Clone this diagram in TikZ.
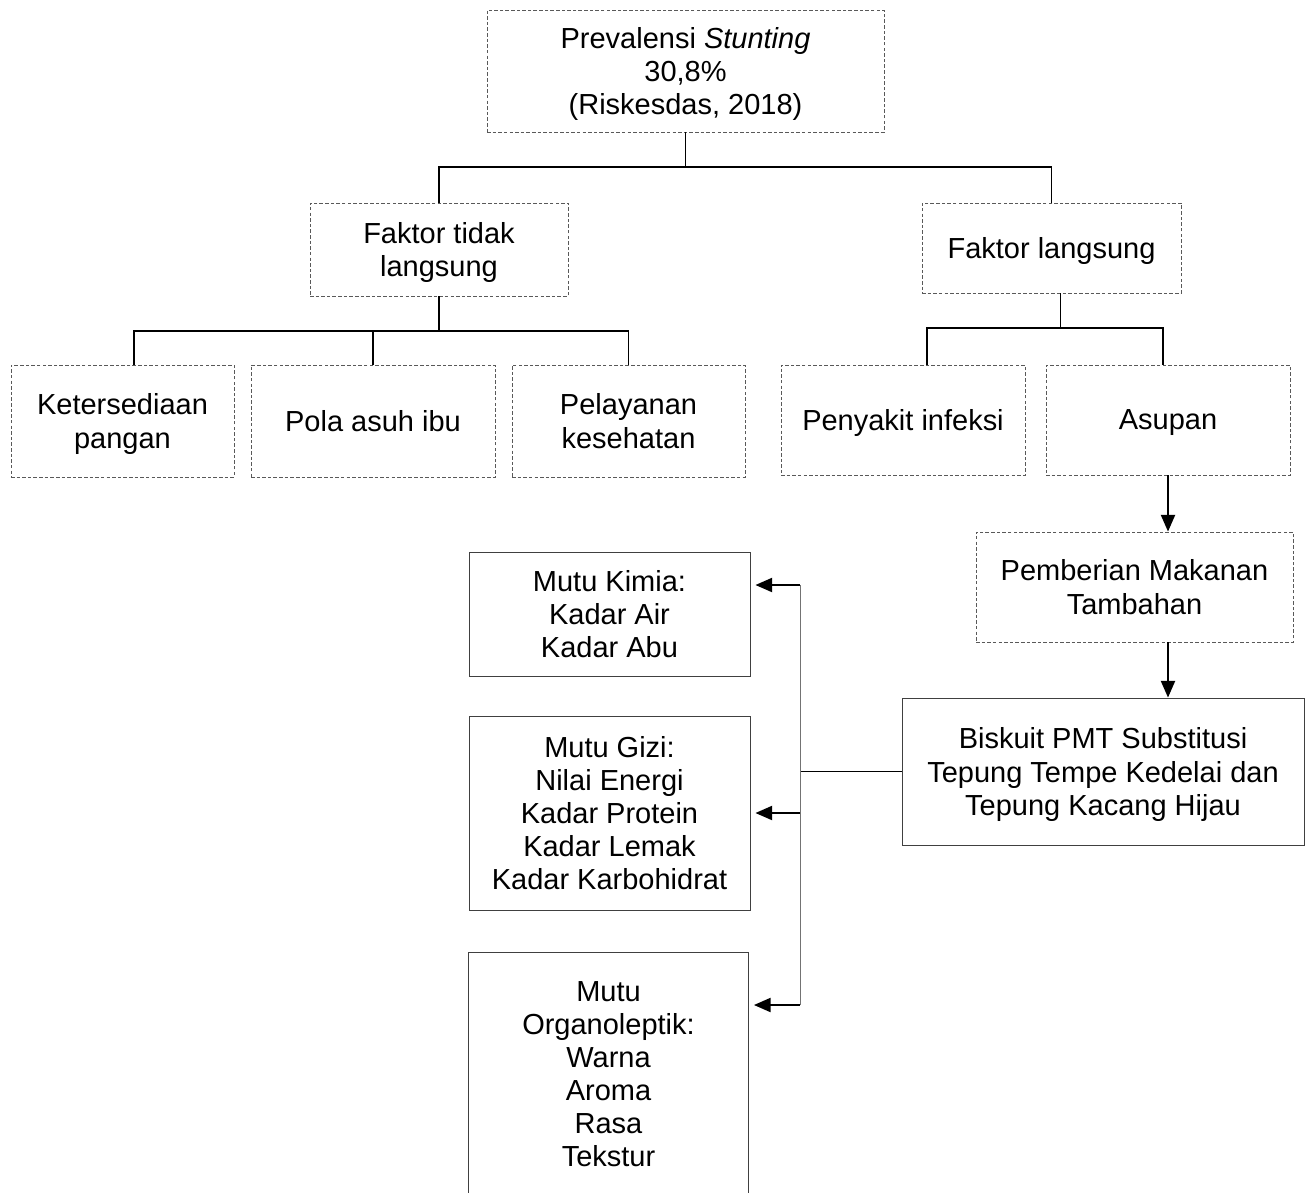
\documentclass[tikz,border=0pt]{standalone}
\usepackage{fontspec}
\setmainfont{Liberation Sans}
\usetikzlibrary{arrows.meta}

\begin{document}
\begin{tikzpicture}[
        box/.style={draw=black!75, line width=0.5pt, align=center, inner sep=0pt,
            text depth=0pt, font=\fontsize{16.5}{18.8}\selectfont},
        dbox/.style={box, draw=black!65, dash pattern=on 2pt off 1.2pt},
        conn/.style={line width=1.1pt},
        arr/.style={conn, -{Triangle[length=9.5pt, width=8pt]}}
    ]
        \clip (0, 0) rectangle (26.18, -23.84);

        \node[dbox, minimum width=7.94cm, minimum height=2.44cm] (top) at (13.71, -1.42)
            {Prevalensi \textit{Stunting}\\30,8\%\\(Riskesdas, 2018)};

        \node[dbox, minimum width=5.16cm, minimum height=1.86cm] (ftl) at (8.78, -4.99) {Faktor tidak\\langsung};
        \node[dbox, minimum width=5.18cm, minimum height=1.80cm] (fl) at (21.03, -4.96) {Faktor langsung};

        \node[dbox, minimum width=4.46cm, minimum height=2.24cm] (ket) at (2.45, -8.42) {Ketersediaan\\pangan};
        \node[dbox, minimum width=4.88cm, minimum height=2.24cm] (pola) at (7.46, -8.42) {Pola asuh ibu};
        \node[dbox, minimum width=4.66cm, minimum height=2.24cm] (pel) at (12.57, -8.42) {Pelayanan\\kesehatan};

        \node[dbox, minimum width=4.88cm, minimum height=2.20cm] (peny) at (18.06, -8.40) {Penyakit infeksi};
        \node[dbox, minimum width=4.88cm, minimum height=2.20cm] (asu) at (23.36, -8.40) {Asupan};

        \node[dbox, minimum width=6.34cm, minimum height=2.20cm] (pmt) at (22.69, -11.74) {Pemberian Makanan\\Tambahan};
        \node[box, minimum width=8.04cm, minimum height=2.94cm] (bis) at (22.06, -15.43)
            {Biskuit PMT Substitusi\\Tepung Tempe Kedelai dan\\Tepung Kacang Hijau};

        \node[box, minimum width=5.62cm, minimum height=2.48cm] (kim) at (12.19, -12.28) {Mutu Kimia:\\Kadar Air\\Kadar Abu};
        \node[box, minimum width=5.62cm, minimum height=3.88cm] (giz) at (12.19, -16.26)
            {Mutu Gizi:\\Nilai Energi\\Kadar Protein\\Kadar Lemak\\Kadar Karbohidrat};
        \node[box, minimum width=5.60cm, minimum height=4.88cm] (org) at (12.17, -21.48)
            {Mutu\\Organoleptik:\\Warna\\Aroma\\Rasa\\Tekstur};

        % tree lines
        \coordinate (j1) at (13.71, -3.34);
        \draw[conn] (top.south) -- (j1);
        \draw[conn] (ftl.north) |- (j1) -| (fl.north);

        \draw[conn] (ftl.south) -- ++(0, -0.70) coordinate (j2);
        \draw[conn] ([xshift=0.23cm]ket.north) |- (j2) -| (pel.north);
        \draw[conn] (pola.north) -- (pola.north |- j2);

        \draw[conn] ([xshift=0.18cm]fl.south) -- ++(0, -0.70) coordinate (j3);
        \draw[conn] ([xshift=0.48cm]peny.north) |- (j3) -| ([xshift=-0.10cm]asu.north);

        % arrows to the biscuit
        \draw[arr] (asu.south) -- (asu.south |- pmt.north);
        \draw[arr] (asu.south |- pmt.south) -- (asu.south |- bis.north);

        % quality tests
        \coordinate (b1) at (16.00, -11.70);
        \coordinate (b2) at (16.00, -16.26);
        \coordinate (b3) at (16.00, -20.10);
        \draw[conn] (bis.west) -- (bis.west -| b1);
        \draw[line width=0.5pt, black!55] (b1) -- (b3);
        \foreach \b/\m in {b1/kim, b2/giz, b3/org} {
            \draw[arr, shorten >=0.1cm] (\b) -- (\b -| \m.east);
        }

    \end{tikzpicture}
\end{document}
